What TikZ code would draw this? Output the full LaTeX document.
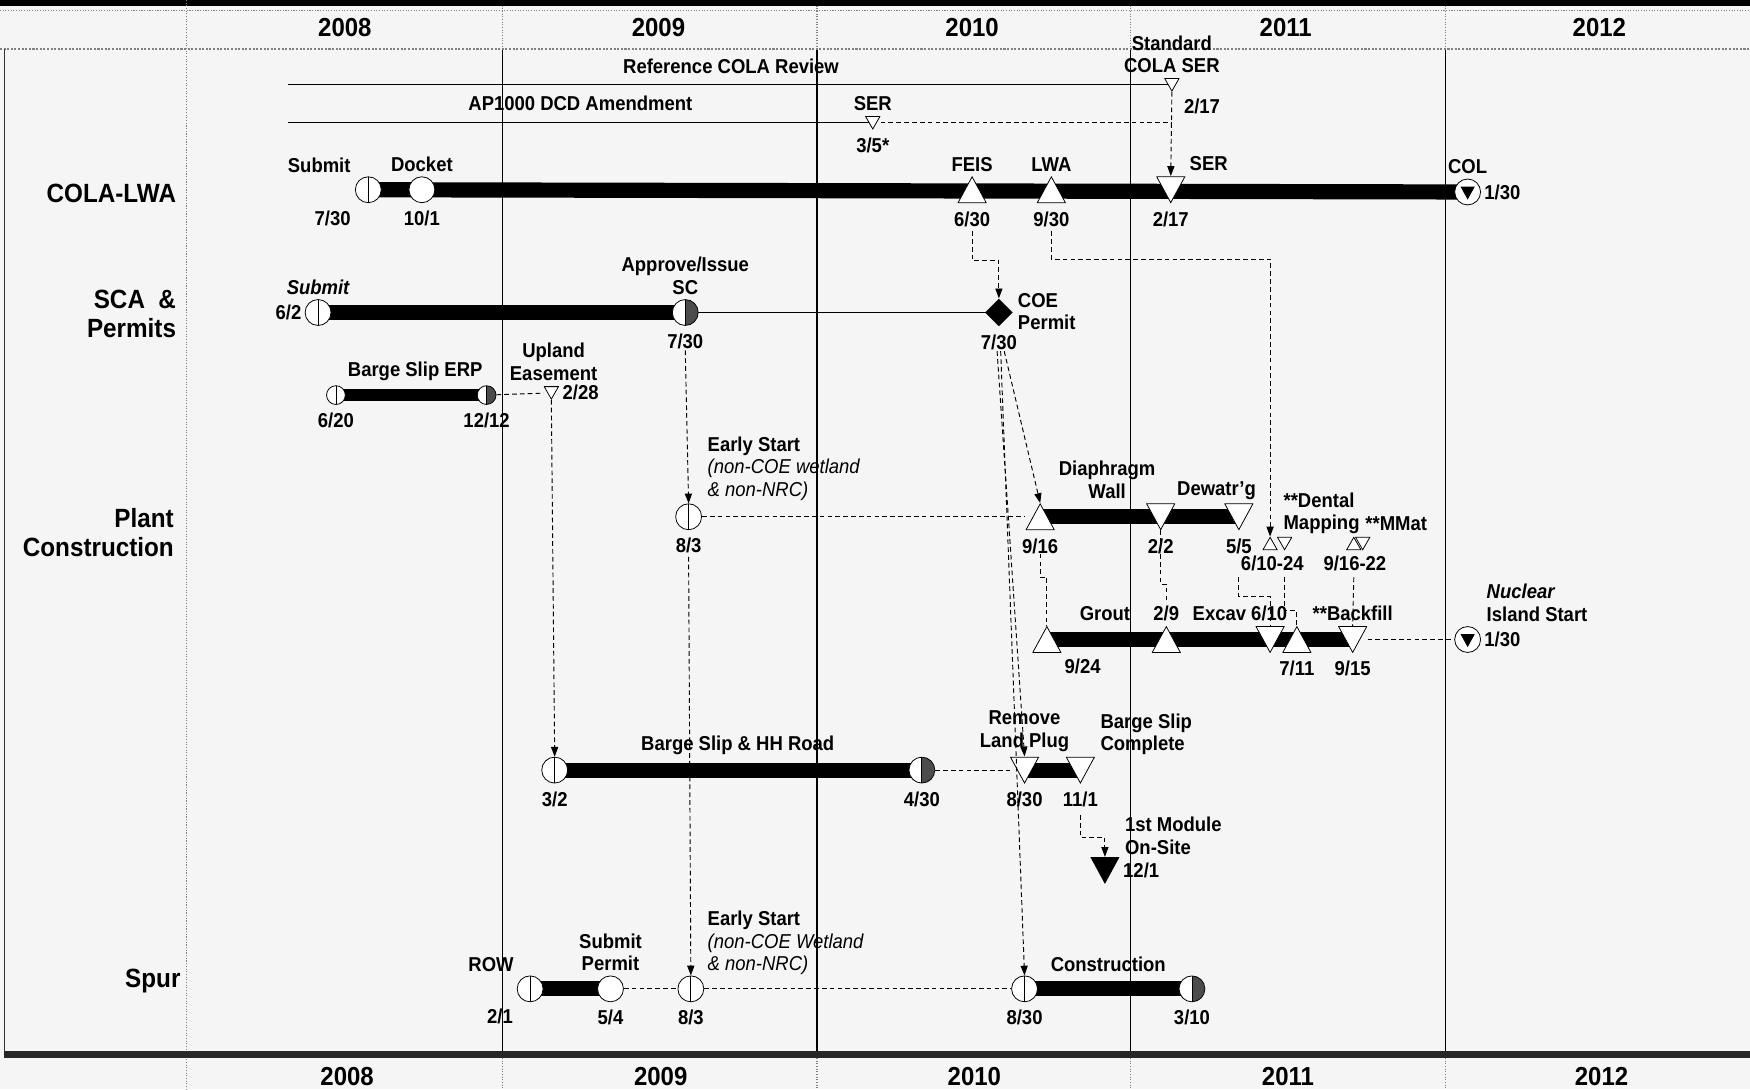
\documentclass[tikz,border=0pt]{standalone}
\usepackage{fontspec}
\setsansfont{Liberation Sans}[FakeStretch=0.92]
\usetikzlibrary{positioning}
\usetikzlibrary{shapes.geometric, arrows.meta, backgrounds}
\tikzset{every picture/.style={/utils/exec={\sffamily\bfseries}}}
\tikzset{
  txt/.style={font=\fontsize{12.8}{14.3}\selectfont, inner sep=2pt, align=center},
  rowname/.style={font=\fontsize{16.8}{18.5}\selectfont, inner sep=0pt, align=right, anchor=east},
  yr/.style={font=\fontsize{16.6}{18}\selectfont, inner sep=0pt},
  ab/.style={label={[txt, label distance=0.8pt]above:#1}},
  be/.style={label={[txt, label distance=3pt]below:#1}},
  ri/.style={label={[txt, label distance=0pt]right:#1}},
  le/.style={label={[txt, label distance=0pt]left:#1}},
  ms/.style={circle, draw, fill=white, line width=0.5pt, minimum size=5.8mm, inner sep=0pt},
  msbeg/.style={ms, path picture={\draw[line width=0.5pt] (path picture bounding box.north) -- (path picture bounding box.south);}},
  msend/.style={ms, path picture={\fill[black!70] (path picture bounding box.north) rectangle (path picture bounding box.south east);
      \draw[line width=0.5pt] (path picture bounding box.north) -- (path picture bounding box.south);}},
  colm/.style={ms, path picture={\fill[black] ([shift={(-1.6mm,1.2mm)}]path picture bounding box.center) -- ++(3.2mm,0) -- ++(-1.6mm,-2.9mm) -- cycle;}},
  small/.style={minimum size=4.2mm},
  tri/.style={rectangle, inner sep=0pt, minimum width=6.5mm, minimum height=6mm},
  tup/.style={tri, path picture={\filldraw[fill=white, line width=0.5pt]
      ([yshift=-0.3pt]path picture bounding box.north)
      -- ([shift={(-0.3pt,0.3pt)}]path picture bounding box.south east)
      -- ([shift={(0.3pt,0.3pt)}]path picture bounding box.south west) -- cycle;}},
  tdn/.style={tri, path picture={\filldraw[fill=white, line width=0.5pt]
      ([yshift=0.3pt]path picture bounding box.south)
      -- ([shift={(-0.3pt,-0.3pt)}]path picture bounding box.north east)
      -- ([shift={(0.3pt,-0.3pt)}]path picture bounding box.north west) -- cycle;}},
  sm/.style={minimum width=3.4mm, minimum height=3mm},
  bigdn/.style={tri, path picture={\fill[black] (path picture bounding box.south) -- (path picture bounding box.north east) -- (path picture bounding box.north west) -- cycle;}},
  dmd/.style={diamond, fill=black, minimum size=6.2mm, inner sep=0pt},
  bar/.style={line width=3.4mm},
  slimbar/.style={line width=2.8mm},
  tie/.style={densely dashed, line width=0.6pt},
  link/.style={tie, -{Triangle[length=2.2mm, width=1.6mm]}},
  yrline/.style={line width=0.7pt},
  dotline/.style={gray, densely dotted, line width=0.7pt}
}

\begin{document}
\begin{tikzpicture}[x=0.025cm, y=-0.025cm]
  \useasboundingbox (0,0) rectangle (1568,976);

  % years
  \foreach \yr [count=\i from 0] in {2008,2009,2010,2011,2012} {
    \node[yr] (top\yr) at ({309+281*\i},25) {\yr};
    \node[yr] (bot\yr) at ({311+281*\i},965) {\yr};
  }

  % row titles
  \node[rowname] (lcola) at (158,173) {COLA-LWA};
  \node[rowname] (lsca) at (158,281) {SCA\ \ \&\\Permits};
  \node[rowname] (lplant) at (156,477) {Plant\\Construction};
  \node[rowname] (lspur) at (162,879) {Spur};

  % reviews
  \coordinate (refst) at (258,76);
  \coordinate (dcdst) at (258,110);
  \node[txt] (tref) at (655,59) {Reference COLA Review};
  \node[txt] (tdcd) at (520,93) {AP1000 DCD Amendment};
  \node[tdn, sm, ab=Standard\\COLA SER] (stdser) at (1050,76) {};
  \node[txt] (tstdd) at (1077,95) {2/17};
  \node[tdn, sm, ab=SER, be=3/5*] (apser) at (782,110) {};

  % COLA-LWA
  \node[msbeg] (colasub) at (330,170) {};
  \node[txt] (tcsub) at (286,148) {Submit};
  \node[txt] (tcsubd) at (298,196) {7/30};
  \node[ms, ab=Docket, be=10/1] (docket) at (378,170) {};
  \node[tup, ab=FEIS, be=6/30] (feis) at (871,170) {};
  \node[tup, ab=LWA, be=9/30] (lwa) at (942,170) {};
  \node[tdn, be=2/17] (colaser) at (1049,170) {};
  \node[txt] (tcser) at (1083,147) {SER};
  \node[colm, ab=COL, ri=1/30] (col) at (1315,172) {};

  % SCA & Permits
  \node[msbeg, ab={\itshape Submit}, le=6/2] (scasub) at (285,280) {};
  \node[msend, ab=Approve/Issue\\SC, be=7/30] (sc) at (614,280) {};
  \node[dmd, be=7/30] (coe) at (895,280) {};
  \node[txt, anchor=west, align=left] (tcoe) at (909,279) {COE\\Permit};

  \node[msbeg, small, be=6/20] (erpst) at (301,354) {};
  \node[msend, small, be=12/12] (erpend) at (436,354) {};
  \node[txt] (terp) at (372,333) {Barge Slip ERP};
  \node[tdn, sm, ri=2/28] (upland) at (494,352) {};
  \node[txt] (tupl) at (496,324) {Upland\\Easement};

  % Plant Construction
  \node[msbeg, be=8/3] (es1) at (617,463) {};
  \node[txt, anchor=west, align=left] (tes1) at (631,420)
    {Early Start\\{\mdseries\itshape (non-COE wetland}\\{\mdseries\itshape \& non-NRC)}};
  \node[tup, be=9/16] (dw) at (932,463) {};
  \node[tdn, be=2/2] (dw2) at (1040,463) {};
  \node[tdn, be=5/5] (dwt) at (1110,463) {};
  \node[txt] (tdia) at (992,430) {Diaphragm\\Wall};
  \node[txt] (tdew) at (1090,440) {Dewatr'g};
  \node[tup, sm] (dm1) at (1138,487) {};
  \node[tdn, sm] (dm2) at (1151,487) {};
  \node[txt] (tdm) at (1140,505) {6/10-24};
  \node[txt, anchor=west, align=left] (tdent) at (1147,460) {**Dental\\Mapping};
  \node[tup, sm] (mm1) at (1213,487) {};
  \node[tdn, sm] (mm2) at (1221,487) {};
  \node[txt] (tmm) at (1214,505) {9/16-22};
  \node[txt] (tmmat) at (1251,469) {**MMat};

  \node[tup] (grout) at (938,573) {};
  \node[txt] (tgd) at (970,597) {9/24};
  \node[txt] (tgr) at (990,550) {Grout};
  \node[tup, ab=2/9] (g2) at (1045,573) {};
  \node[tdn] (excav) at (1138,573) {};
  \node[txt] (tex) at (1111,550) {Excav 6/10};
  \node[tup, be=7/11] (x2) at (1162,573) {};
  \node[tdn, ab=**Backfill, be=9/15] (bf) at (1212,573) {};
  \node[colm, ri=1/30] (nis) at (1315,573) {};
  \node[txt, anchor=west, align=left] (tnis) at (1329,540) {{\itshape Nuclear}\\Island Start};

  \node[msbeg, be=3/2] (hh1) at (497,690) {};
  \node[msend, be=4/30] (hh2) at (826,690) {};
  \node[txt] (thh) at (661,668) {Barge Slip \& HH Road};
  \node[tdn, ab=Remove\\Land Plug, be=8/30] (rlp) at (918,690) {};
  \node[tdn, be=11/1] (bsc) at (968,690) {};
  \node[txt, anchor=west, align=left] (tbsc) at (983,658) {Barge Slip\\Complete};
  \node[bigdn, ri=12/1] (mod) at (990,780) {};
  \node[txt, anchor=west, align=left] (tmod) at (1005,749) {1st Module\\On-Site};

  % Spur
  \node[msbeg] (row) at (475,886) {};
  \node[txt] (trow) at (440,864) {ROW};
  \node[txt] (trowd) at (448,911) {2/1};
  \node[ms, ab=Submit\\Permit, be=5/4] (subp) at (547,886) {};
  \node[msbeg, be=8/3] (es2) at (619,886) {};
  \node[txt, anchor=west, align=left] (tes2) at (631,845)
    {Early Start\\{\mdseries\itshape (non-COE Wetland}\\{\mdseries\itshape \& non-NRC)}};
  \node[msbeg, be=8/30] (sp3) at (918,886) {};
  \node[msend, be=3/10] (sp4) at (1068,886) {};
  \node[txt] (tcon) at (993,864) {Construction};

  \begin{scope}[on background layer]
    \fill[black!4] (0,0) rectangle (1568,976);
    \fill (0,0) rectangle (1568,5);
    \draw[dotline, line width=1.3pt] (0,44) -- (1568,44);
    \draw[dotline] (0,9) -- (1568,9);
    \draw[dotline] (167,0) -- (167,976);
    \foreach \x in {450,732,1013,1295} {
      \draw[yrline] (\x,45) -- (\x,945);
      \draw[dotline] (\x,5) -- (\x,44);
      \draw[dotline] (\x,948) -- (\x,976);
    }
    \draw[line width=1pt, black!80] (4,44) -- (4,945);
    \draw[line width=1.5mm, black!85] (4,945) -- (1568,945);

    \draw[line width=0.7pt] (refst) -- (stdser.center);
    \draw[line width=0.7pt] (dcdst) -- (apser.center);
    \draw[tie] (apser.center) -- (apser.center -| stdser.center);
    \draw[line width=0.7pt] (sc.center) -- (coe.center);

    \draw[bar] (colasub.center) -- (col.center);
    \draw[bar] (scasub.center) -- (sc.center);
    \draw[slimbar] (erpst.center) -- (erpend.center);
    \draw[bar] (dw.center) -- (dwt.center);
    \draw[bar] (grout.center) -- (bf.center);
    \draw[bar] (hh1.center) -- (hh2.center);
    \draw[bar] (rlp.center) -- (bsc.center);
    \draw[bar] (row.center) -- (subp.center);
    \draw[bar] (sp3.center) -- (sp4.center);

    \draw[tie] (erpend) -- (upland);
    \draw[tie] (es1) -- (dw);
    \draw[tie] (bf) -- (nis);
    \draw[tie] (hh2) -- (rlp);
    \draw[tie] (subp) -- (es2) -- (sp3);
    \draw[tie] ([yshift=-5.2mm]dw.south) -- ++(0,21) -| (grout.north);
    \draw[tie] (dw2.south) -- ++(0,48) -| ([yshift=5.8mm]g2.north);
    \draw[tie] ([yshift=-10.5mm]dwt.south) -- ++(0,17) -| (excav.north);
    \draw[tie] ([yshift=-6mm]dm2.south) -- ++(0,30) -| (x2.north);
    \draw[tie] ([yshift=-6mm]mm1.south) -- (bf.north);
  \end{scope}

  % links
  \draw[link] (stdser.south) -- (colaser.north);
  \draw[link] ([yshift=-6.2mm]feis.south) -- ++(0,26) -| (coe.north);
  \draw[link] ([yshift=-6.2mm]lwa.south) -- ++(0,25) -| (dm1.north);
  \draw[link] ([yshift=-5.5mm]sc.south) -- (es1.north);
  \draw[link] ([yshift=-6mm]es1.south) -- (es2.north);
  \draw[link] (upland.south) -- (hh1.north);
  \draw[link] ([xshift=1.2mm, yshift=-5.5mm]coe.south) -- (dw.north);
  \draw[link] ([xshift=-0.4mm, yshift=-5.5mm]coe.south) -- (rlp.north);
  \draw[link] ([xshift=0.4mm, yshift=-5.5mm]coe.south) -- (sp3.north);
  \draw[link] ([yshift=-7mm]bsc.south) -- ++(0,20) -| (mod.north);
\end{tikzpicture}
\end{document}
